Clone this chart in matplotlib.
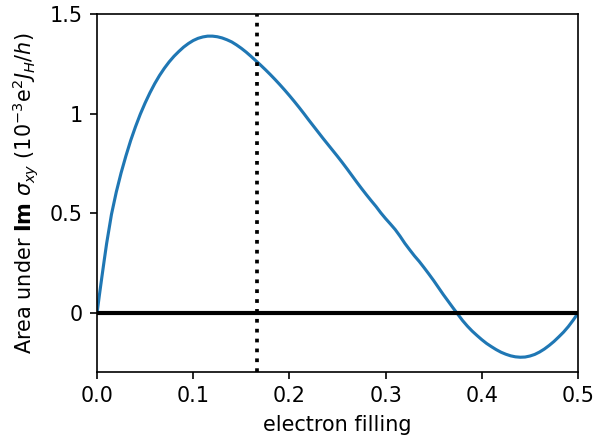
import matplotlib
matplotlib.use("Agg")
import matplotlib.pyplot as plt
import numpy as np

# area under Im sigma_xy vs electron filling
filling = [0.0, 0.0025, 0.005, 0.0075, 0.01, 0.015, 0.02, 0.025, 0.03, 0.035,
           0.04, 0.045, 0.05, 0.055, 0.06, 0.065, 0.07, 0.075, 0.08, 0.085,
           0.09, 0.095, 0.10, 0.105, 0.11, 0.115, 0.12, 0.125, 0.13, 0.135,
           0.14, 0.145, 0.15, 0.155, 0.16, 0.165, 0.17, 0.175, 0.18, 0.185,
           0.19, 0.195, 0.20, 0.205, 0.21, 0.215, 0.22, 0.225, 0.23, 0.235,
           0.24, 0.245, 0.25, 0.255, 0.26, 0.265, 0.27, 0.275, 0.28, 0.285,
           0.29, 0.295, 0.30, 0.305, 0.31, 0.315, 0.32, 0.325, 0.33, 0.335,
           0.34, 0.345, 0.35, 0.355, 0.36, 0.365, 0.37, 0.375, 0.38, 0.385,
           0.39, 0.395, 0.40, 0.405, 0.41, 0.415, 0.42, 0.425, 0.43, 0.435,
           0.44, 0.445, 0.45, 0.455, 0.46, 0.465, 0.47, 0.475, 0.48, 0.485,
           0.49, 0.495, 0.50]
area = [0.0, 0.092, 0.18, 0.266, 0.35, 0.495, 0.607, 0.703, 0.788, 0.866,
        0.935, 0.998, 1.054, 1.105, 1.151, 1.192, 1.228, 1.26, 1.288, 1.312,
        1.334, 1.352, 1.367, 1.378, 1.385, 1.389, 1.389, 1.386, 1.38, 1.371,
        1.36, 1.345, 1.328, 1.309, 1.288, 1.266, 1.244, 1.221, 1.197, 1.172,
        1.146, 1.119, 1.091, 1.062, 1.032, 1.001, 0.969, 0.938, 0.907, 0.876,
        0.846, 0.816, 0.786, 0.755, 0.723, 0.69, 0.657, 0.625, 0.594, 0.564,
        0.535, 0.503, 0.474, 0.447, 0.419, 0.386, 0.35, 0.318, 0.287, 0.259,
        0.228, 0.196, 0.163, 0.128, 0.093, 0.06, 0.027, -0.005, -0.037, -0.065,
        -0.09, -0.112, -0.133, -0.152, -0.168, -0.183, -0.196, -0.206, -0.214, -0.219,
        -0.221, -0.22, -0.215, -0.207, -0.195, -0.18, -0.162, -0.142, -0.119, -0.095,
        -0.067, -0.035, 0.0]

x_ticks = [0.0, 0.1, 0.2, 0.3, 0.4, 0.5]
x_ticklabels = ["0.0", "0.1", "0.2", "0.3", "0.4", "0.5"]
y_ticks = [0, 0.5, 1, 1.5]
y_ticklabels = ["0", "0.5", "1", "1.5"]
marker_filling = 1 / 6

fig = plt.figure(figsize=(4, 443 / 149), dpi=149)
ax = fig.add_axes([0.1628, 0.1603, 0.8070, 0.8081])

ax.plot(filling, area, color="#1f77b4", lw=1.5)
ax.plot([0, 0.5], [0, 0], color="black", lw=2)
ax.axvline(marker_filling, color="black", ls=":", lw=1.8)

ax.set_xlim(0, 0.5)
ax.set_ylim(-0.295, 1.5)
ax.set_xticks(x_ticks)
ax.set_xticklabels(x_ticklabels)
ax.set_yticks(y_ticks)
ax.set_yticklabels(y_ticklabels)
ax.set_xlabel("electron filling")
ax.set_ylabel(r"Area under $\mathbf{Im}\ \sigma_{xy}$ ($10^{-3}\mathrm{e}^2 J_H/h$)")

fig.savefig("out.png", dpi=149)
